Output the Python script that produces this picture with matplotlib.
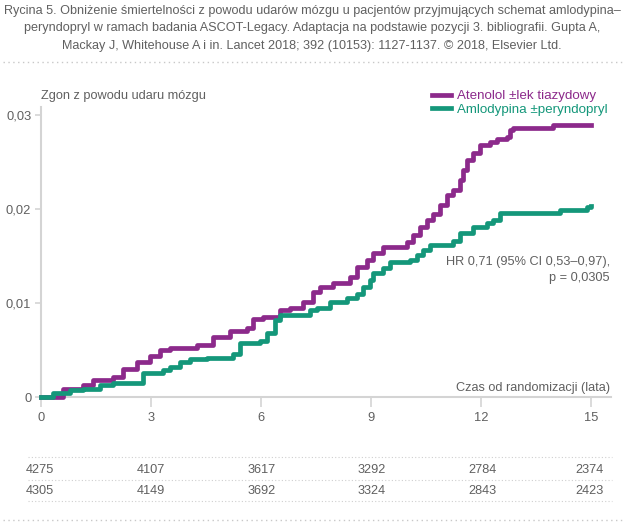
import matplotlib
matplotlib.use("Agg")
import matplotlib.pyplot as plt
from matplotlib.lines import Line2D

plt.rcParams['font.family'] = ['Liberation Sans', 'DejaVu Sans']

# ---- data ----
atenolol_t = [0, 0.6, 1.15, 1.42, 1.96, 2.24, 2.62, 2.97, 3.25, 3.52, 4.25, 4.69, 5.15, 5.62,
              5.78, 6.05, 6.52, 6.79, 7.14, 7.42, 7.61, 7.96, 8.43, 8.62, 8.89, 9.05, 9.33,
              9.98, 10.14, 10.34, 10.53, 10.69, 10.88, 11.07, 11.24, 11.43, 11.51, 11.62,
              11.78, 11.97, 12.24, 12.44, 12.71, 12.79, 12.87, 13.96, 15.0]
atenolol_y = [0, 0.0009, 0.0013, 0.0018, 0.0021, 0.0030, 0.0037, 0.0044, 0.0050, 0.0052,
              0.0055, 0.0064, 0.0070, 0.0073, 0.0083, 0.0085, 0.0093, 0.0095, 0.0101, 0.0112,
              0.0117, 0.0121, 0.0128, 0.0138, 0.0146, 0.0153, 0.0160, 0.0165, 0.0172, 0.0181,
              0.0188, 0.0195, 0.0204, 0.0215, 0.0220, 0.0231, 0.0241, 0.0252, 0.0260, 0.0268,
              0.0271, 0.0274, 0.0277, 0.0284, 0.0286, 0.0289, 0.0289]

amlo_t = [0, 0.33, 0.79, 1.15, 1.61, 1.96, 2.78, 3.33, 3.52, 3.79, 4.06, 4.53, 5.24, 5.43,
          5.97, 6.16, 6.38, 6.52, 7.34, 7.53, 7.88, 8.34, 8.62, 8.78, 8.97, 9.05, 9.33, 9.52,
          10.06, 10.25, 10.42, 10.61, 11.24, 11.43, 11.78, 12.16, 12.33, 12.52, 14.15, 14.89, 15.0]
amlo_y = [0, 0.0004, 0.0007, 0.0009, 0.0013, 0.0015, 0.0025, 0.0029, 0.0032, 0.0037, 0.0040,
          0.0042, 0.0046, 0.0057, 0.0060, 0.0068, 0.0082, 0.0087, 0.0093, 0.0095, 0.0101,
          0.0105, 0.0110, 0.0117, 0.0124, 0.0132, 0.0137, 0.0144, 0.0146, 0.0151, 0.0156,
          0.0162, 0.0166, 0.0174, 0.0181, 0.0185, 0.0188, 0.0196, 0.0199, 0.0202, 0.0203]

x_ticks = [0, 3, 6, 9, 12, 15]
y_ticks = [0, 0.01, 0.02, 0.03]
y_tick_labels = ['0', '0,01', '0,02', '0,03']

risk_atenolol = ['4275', '4107', '3617', '3292', '2784', '2374']
risk_amlo = ['4305', '4149', '3692', '3324', '2843', '2423']

labels = ['Atenolol \u00b1lek tiazydowy', 'Amlodypina \u00b1peryndopryl']
title_lines = [
    'Rycina 5. Obni\u017cenie \u015bmiertelno\u015bci z powodu udar\u00f3w m\u00f3zgu u pacjent\u00f3w przyjmuj\u0105cych schemat amlodypina\u2013',
    'peryndopryl w ramach badania ASCOT-Legacy. Adaptacja na podstawie pozycji 3. bibliografii. Gupta A,',
    'Mackay J, Whitehouse A i in. Lancet 2018; 392 (10153): 1127-1137. \u00a9 2018, Elsevier Ltd.',
]

PURPLE = '#8c2a8b'
GREEN = '#14977a'
GRAY = '#606060'
LIGHT = '#d4d4d4'

W, H = 625, 524
fig = plt.figure(figsize=(W / 100, H / 100), dpi=100)

def fx(px):
    return px / W

def fy(py):
    return 1 - py / H

# title
for i, line in enumerate(title_lines):
    fig.text(fx(312), fy(11 + 17.5 * i), line, ha='center', va='center',
             fontsize=9.05, color=GRAY)

# top dotted separator
fig.add_artist(Line2D([fx(3), fx(622)], [fy(62), fy(62)], color='#c8c8c8',
                      lw=1, linestyle=(0, (1, 2.5))))

ax = fig.add_axes([fx(41), fy(397), fx(611) - fx(41), fy(107) - fy(397)])
ax.set_xlim(0, 15.545)
ax.set_ylim(0, 0.03085)

ax.step(atenolol_t, atenolol_y, where='post', color=PURPLE, lw=3.4, label=labels[0],
        clip_on=False, zorder=3)
ax.step(amlo_t, amlo_y, where='post', color=GREEN, lw=3.4, label=labels[1],
        clip_on=False, zorder=3)

for s in ['top', 'right']:
    ax.spines[s].set_visible(False)
for s in ['left', 'bottom']:
    ax.spines[s].set_color(LIGHT)
    ax.spines[s].set_linewidth(1.5)

ax.set_xticks(x_ticks)
ax.set_xticklabels([str(t) for t in x_ticks])
ax.set_yticks(y_ticks)
ax.set_yticklabels(y_tick_labels)
ax.tick_params(axis='x', length=7, width=1.2, color=LIGHT, labelcolor=GRAY,
               labelsize=9.3, pad=4)
ax.tick_params(axis='y', length=4, width=1.2, color=LIGHT, labelcolor=GRAY,
               labelsize=9.3, pad=3)

fig.text(fx(41), fy(96), 'Zgon z powodu udaru m\u00f3zgu', ha='left', va='center',
         fontsize=9.2, color=GRAY)
fig.text(fx(610), fy(388), 'Czas od randomizacji (lata)', ha='right', va='center',
         fontsize=9.2, color=GRAY)
fig.text(fx(610), fy(262), 'HR 0,71 (95% CI 0,53\u20130,97),', ha='right', va='center',
         fontsize=9.2, color=GRAY)
fig.text(fx(610), fy(278), 'p = 0,0305', ha='right', va='center',
         fontsize=9.2, color=GRAY)

leg = ax.legend(loc='upper right', bbox_to_anchor=(fx(608), fy(90)),
                bbox_transform=fig.transFigure, frameon=False, fontsize=9.6,
                handlelength=1.45, handletextpad=0.45, labelspacing=0.1,
                borderpad=0, borderaxespad=0)
for txt, c in zip(leg.get_texts(), [PURPLE, GREEN]):
    txt.set_color(c)
for h in leg.get_lines():
    h.set_linewidth(3.4)

# number-at-risk table
col_left = [26, 137, 248, 358, 468]
for i in range(6):
    if i < 5:
        xpos, ha = fx(col_left[i]), 'left'
    else:
        xpos, ha = fx(604), 'right'
    fig.text(xpos, fy(470), risk_atenolol[i], ha=ha, va='center', fontsize=9.2, color=GRAY)
    fig.text(xpos, fy(491), risk_amlo[i], ha=ha, va='center', fontsize=9.2, color=GRAY)

for yy in [457, 480, 501]:
    fig.add_artist(Line2D([fx(28), fx(612)], [fy(yy), fy(yy)], color='#cfcfcf',
                          lw=0.8, linestyle=(0, (1, 2))))
fig.add_artist(Line2D([fx(3), fx(622)], [fy(520), fy(520)], color='#c8c8c8',
                      lw=1, linestyle=(0, (1, 2.5))))

fig.savefig('out.png', dpi=100)
